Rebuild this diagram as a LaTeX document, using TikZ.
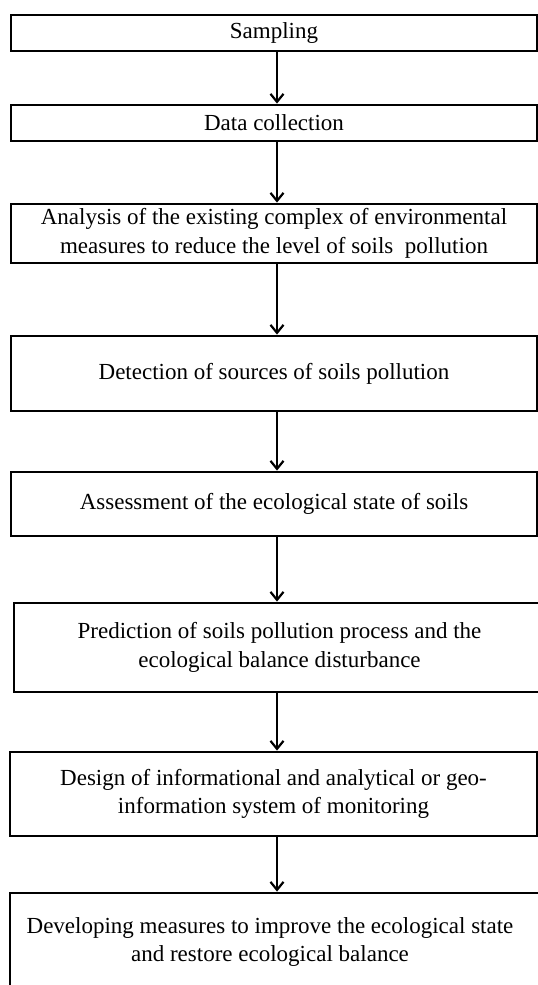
\documentclass[tikz,border=0pt]{standalone}
\usepackage{fontspec}
\setmainfont{Liberation Serif}
\usetikzlibrary{arrows.meta}
\begin{document}
\begin{tikzpicture}[x=1pt,y=-1pt,
  stepbox/.style={draw=black, line width=2.8pt, rectangle, inner sep=0pt, align=center,
     font=\fontsize{23}{28.5}\selectfont},
  arr/.style={line width=2.2pt, -{Straight Barb[length=8pt,width=13pt,line width=2.2pt]}}]
\clip (0,0) rectangle (538,985);
\fill[white] (0,0) rectangle (538,985);
\coordinate (ax) at (277,0);
\node[stepbox, minimum width=526pt, minimum height=36pt] (s1) at (274,33) {Sampling};
\node[stepbox, minimum width=526pt, minimum height=36pt] (s2) at (274,123) {Data collection};
\node[stepbox, minimum width=526pt, minimum height=59pt] (s3) at (274,233.5) {Analysis of the existing complex of environmental\\measures to reduce the level of soils\ \ pollution};
\node[stepbox, minimum width=526pt, minimum height=75pt] (s4) at (274,373.5) {Detection of sources of soils pollution};
\node[stepbox, minimum width=526pt, minimum height=64pt] (s5) at (274,504) {Assessment of the ecological state of soils};
\node[stepbox, minimum width=531pt, minimum height=89pt] (s6) at (279.5,647.5) {Prediction of soils pollution process and the\\ecological balance disturbance};
\node[stepbox, minimum width=527pt, minimum height=84pt] (s7) at (273.5,794) {Design of informational and analytical or geo-\\information system of monitoring};
\node[stepbox, minimum width=535pt, minimum height=110pt] (s8) at (277.5,948) {};
\node[font=\fontsize{23}{28.5}\selectfont, align=center] (t8) at (270,942) {Developing measures to improve the ecological state\\and restore ecological balance};
\draw[arr] (s1.south -| ax) -- (s2.north -| ax);
\draw[arr] (s2.south -| ax) -- (s3.north -| ax);
\draw[arr] (s3.south -| ax) -- (s4.north -| ax);
\draw[arr] (s4.south -| ax) -- (s5.north -| ax);
\draw[arr] (s5.south -| ax) -- (s6.north -| ax);
\draw[arr] (s6.south -| ax) -- (s7.north -| ax);
\draw[arr] (s7.south -| ax) -- (s8.north -| ax);
\end{tikzpicture}
\end{document}
